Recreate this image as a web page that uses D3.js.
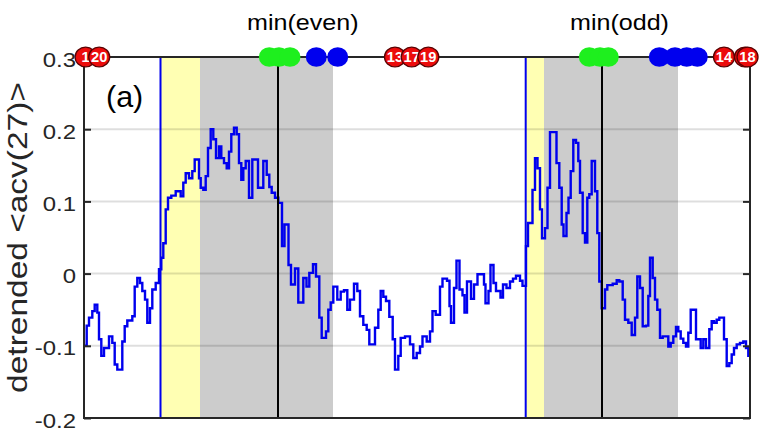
<!DOCTYPE html>
<html><head><meta charset="utf-8">
<script src="https://cdn.jsdelivr.net/npm/d3@7"></script>
<style>body{margin:0;background:#fff} svg{display:block}</style>
</head><body><svg id="c" width="768" height="432"></svg>
<script>
// x: phase units (0..333), y: detrended <acv(27)>
const stepX = [0,1.35,2.5,4.15,5.35,6.65,7.5,8.65,10,12.5,14.15,15.35,16.65,19.15,20.35,21.65,24.15,25.35,26.65,28,29.15,30.5,31.65,33,34.15,35.85,37.5,38.65,39.65,40.85,42,43.65,45.85,48.35,49.65,50.85,52.5,54.15,55.35,57.5,58.35,59.65,60.85,62,63.35,64.65,66,67.5,68.65,70,71.35,72.5,73.65,75,76.35,77.5,78.65,79.65,80.85,82.5,84.15,87,89.65,91.35,92.65,93.85,95.5,97.15,99,100.25,102.25,103.5,105.5,107.15,109.65,111.25,112.65,114.5,116,117.65,118.85,121,122.15,123.35,124.65,126.65,128.35,130,131.65,133,135,136.65,138,139.65,141.35,142.65,145.5,147.15,148.35,149.65,151,152.65,154.35,155.5,157.15,158.35,160.5,163,164.65,166.35,168,169.25,171.35,173,174.25,175.85,178,179.25,181.5,182.75,183.5,185,186.25,187.75,189.25,190.25,191.5,193.5,195,196.75,200,200.75,202.25,203.25,204.75,206,208.25,209.5,211.25,213,214.5,216,218,219.25,221,222,224.25,225.5,226.75,228,229,230.5,231.75,233,236.25,237.65,238.85,239.75,241.25,242.25,243.35,244.65,246,247.15,248,249.35,250.5,251.65,252.65,253.85,255.5,256.65,257.65,258.85,260.5,261.65,264.35,266.35,267.65,269.35,270.5,272.15,273.85,275.5,276.65,278,279.35,281,282.15,283,284.35,285.5,286.65,288,289.35,292.15,293.35,294.65,296,297.15,298.35,299.65,301,302.15,303.35,306,308.35,309.65,311,312.65,313.85,315,316.35,317.65,320,321.35,322.65,323.85,325,326.35,328,329.65,331,332.15];
const stepY = [-0.100,-0.072,-0.061,-0.052,-0.043,-0.054,-0.091,-0.114,-0.103,-0.087,-0.096,-0.126,-0.133,-0.094,-0.073,-0.065,-0.059,-0.018,-0.006,-0.013,-0.024,-0.036,-0.068,-0.048,-0.022,-0.013,0.006,0.022,0.042,0.089,0.105,0.108,0.114,0.107,0.126,0.139,0.132,0.142,0.158,0.132,0.119,0.116,0.135,0.174,0.200,0.186,0.160,0.176,0.160,0.153,0.146,0.169,0.193,0.202,0.193,0.153,0.130,0.146,0.156,0.105,0.158,0.119,0.156,0.137,0.120,0.112,0.105,0.098,0.038,0.068,0.012,-0.015,0.007,-0.040,-0.006,-0.018,0.001,0.013,-0.004,-0.061,-0.089,-0.080,-0.050,-0.040,-0.018,-0.036,-0.025,-0.023,-0.050,-0.036,-0.014,-0.024,-0.059,-0.071,-0.078,-0.098,-0.075,-0.050,-0.024,-0.032,-0.038,-0.060,-0.091,-0.133,-0.114,-0.089,-0.087,-0.098,-0.117,-0.110,-0.101,-0.087,-0.094,-0.080,-0.052,-0.057,-0.018,-0.007,-0.010,-0.045,-0.068,-0.020,0.018,-0.022,-0.030,-0.054,-0.011,-0.035,-0.015,-0.001,-0.015,-0.041,-0.024,0.012,-0.013,-0.024,-0.033,-0.015,-0.020,-0.011,-0.007,-0.003,-0.010,-0.017,0.038,0.070,0.116,0.160,0.146,0.089,0.049,0.063,0.119,0.196,0.153,0.119,0.068,0.052,0.084,0.105,0.142,0.185,0.181,0.156,0.112,0.056,0.043,0.105,0.110,0.156,0.114,0.056,-0.011,-0.048,-0.022,-0.016,-0.014,-0.009,-0.011,-0.036,-0.064,-0.068,-0.085,-0.061,-0.004,-0.020,-0.073,-0.072,-0.031,0.022,-0.006,-0.036,-0.050,-0.089,-0.087,-0.101,-0.096,-0.087,-0.074,-0.080,-0.090,-0.096,-0.101,-0.082,-0.050,-0.091,-0.103,-0.091,-0.103,-0.077,-0.066,-0.068,-0.064,-0.061,-0.091,-0.128,-0.124,-0.112,-0.103,-0.098,-0.096,-0.094,-0.103,-0.114];
const xEnd = 333;
const yTicks = [-0.2, -0.1, 0, 0.1, 0.2, 0.3];
const yTickLabels = ["-0.2", "-0.1", "0", "0.1", "0.2", "0.3"];
const yellowBands = [[38.25, 58], [220.85, 230]];
const grayBands = [[58, 124.5], [230, 297]];
const blueLines = [38.25, 220.85];
const blackLines = [97, 259];
const greenX = [92.65, 97.5, 103, 252.65, 258, 262.15];
const blueX = [116.15, 126.85, 287.65, 295.5, 301.35, 306.65];
const redX = [0.8, 7.6, 155.5, 163.85, 172.15, 320, 330.5, 331.75];
const redLabels = ["1", "20", "13", "17", "19", "14", "", "18"];
const minLabels = ["min(even)", "min(odd)"];
const minLabelX = [109.4, 267.75];
const panelLabel = "(a)";
const yLabel = "detrended <acv(27)>";

const svg = d3.select("#c");
const x = d3.scaleLinear().domain([0, xEnd]).range([84, 750]);
const y = d3.scaleLinear().domain([-0.2, 0.3]).range([418, 57]);
const FONT = "'Liberation Sans', Arial, Helvetica, sans-serif";
const SX = 1.14;

svg.append("defs").append("clipPath").attr("id", "clip")
  .append("rect").attr("x", 84).attr("y", 57).attr("width", 666).attr("height", 361);

// bands
svg.selectAll(".yb").data(yellowBands).join("rect")
  .attr("x", d => x(d[0])).attr("width", d => x(d[1]) - x(d[0]))
  .attr("y", y(0.3)).attr("height", y(-0.2) - y(0.3)).attr("fill", "#ffffb3");
svg.selectAll(".gb").data(grayBands).join("rect")
  .attr("x", d => x(d[0])).attr("width", d => x(d[1]) - x(d[0]))
  .attr("y", y(0.3)).attr("height", y(-0.2) - y(0.3)).attr("fill", "#cccccc");

// grid
svg.append("g").selectAll("line").data(yTicks.filter(t => t > -0.2 && t < 0.3)).join("line")
  .attr("x1", 84).attr("x2", 750).attr("y1", d => y(d)).attr("y2", d => y(d))
  .attr("stroke", "rgba(0,0,0,0.13)").attr("stroke-width", 2);

// curve
const pts = stepX.map((d, i) => [d, stepY[i]]);
pts.push([xEnd, stepY[stepY.length - 1]]);
const line = d3.line().x(d => x(d[0])).y(d => y(d[1])).curve(d3.curveStepAfter);
svg.append("path").attr("d", line(pts)).attr("clip-path", "url(#clip)")
  .attr("fill", "none").attr("stroke", "#0000ee").attr("stroke-width", 2.4).attr("stroke-linejoin", "miter");

// vertical lines
svg.selectAll(".bl").data(blueLines).join("line")
  .attr("x1", d => x(d)).attr("x2", d => x(d)).attr("y1", y(0.3)).attr("y2", y(-0.2))
  .attr("stroke", "#0000ee").attr("stroke-width", 2);
svg.selectAll(".kl").data(blackLines).join("line")
  .attr("x1", d => x(d)).attr("x2", d => x(d)).attr("y1", y(0.3)).attr("y2", y(-0.2))
  .attr("stroke", "#000").attr("stroke-width", 2);

// axes
const axL = svg.append("g").attr("transform", "translate(84,0)")
  .call(d3.axisLeft(y).tickValues(yTicks).tickFormat((d, i) => yTickLabels[i]).tickSizeInner(-7).tickSizeOuter(0).tickPadding(8));
axL.select(".domain").remove();
axL.selectAll(".tick line").attr("stroke", "#262626").attr("stroke-width", 2);
axL.selectAll(".tick text").attr("x", 0).attr("dy", null).attr("y", 9)
  .attr("transform", `translate(-8,0) scale(${SX},1)`)
  .attr("font-family", FONT).attr("font-size", 21).attr("fill", "#262626");
const axR = svg.append("g").attr("transform", "translate(750,0)")
  .call(d3.axisRight(y).tickValues(yTicks).tickFormat("").tickSizeInner(-7).tickSizeOuter(0));
axR.select(".domain").remove();
axR.selectAll(".tick line").attr("stroke", "#262626").attr("stroke-width", 2);

svg.append("rect").attr("x", 84).attr("y", 57).attr("width", 666).attr("height", 361)
  .attr("fill", "none").attr("stroke", "#262626").attr("stroke-width", 2);

// markers
svg.selectAll(".gm").data(greenX).join("ellipse")
  .attr("cx", d => x(d)).attr("cy", y(0.3)).attr("rx", 10.5).attr("ry", 9.8).attr("fill", "#1eef1e");
svg.selectAll(".bm").data(blueX).join("ellipse")
  .attr("cx", d => x(d)).attr("cy", y(0.3)).attr("rx", 10.5).attr("ry", 9.8).attr("fill", "#0000ee");
const rg = svg.selectAll(".rm").data(redX).join("g")
  .attr("transform", d => `translate(${x(d)},${y(0.3)})`);
rg.append("ellipse").attr("rx", 10.5).attr("ry", 9.8).attr("fill", "#ec0c0c")
  .attr("stroke", "#5a0000").attr("stroke-width", 1.3);
rg.append("text").text((d, i) => redLabels[i]).attr("text-anchor", "middle").attr("y", 5)
  .attr("transform", `scale(1.05,1)`)
  .attr("font-family", FONT).attr("font-weight", "bold").attr("font-size", 14).attr("fill", "#fff");

// texts
svg.selectAll(".ml").data(minLabels).join("text").text(d => d)
  .attr("transform", (d, i) => `translate(${x(minLabelX[i])},30) scale(${SX},1)`)
  .attr("text-anchor", "middle").attr("font-family", FONT).attr("font-size", 22).attr("fill", "#000");
svg.append("text").text(panelLabel)
  .attr("transform", `translate(106,107) scale(1.05,1)`)
  .attr("font-family", FONT).attr("font-size", 29).attr("fill", "#000");
svg.append("text").text(yLabel)
  .attr("transform", `translate(27,${(y(0.3) + y(-0.2)) / 2}) rotate(-90) scale(1.24,1)`)
  .attr("text-anchor", "middle").attr("font-family", FONT).attr("font-size", 27).attr("fill", "#262626");
</script></body></html>
